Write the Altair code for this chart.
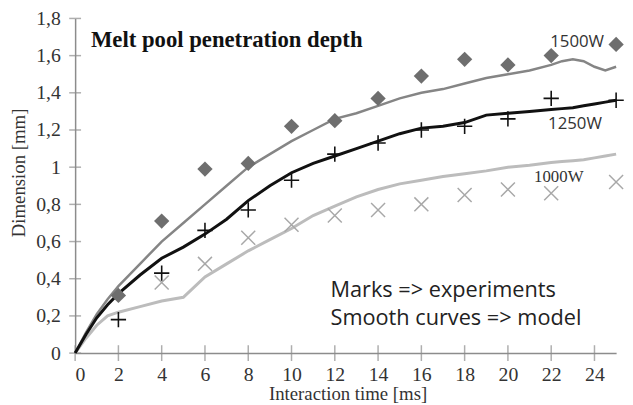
import altair as alt
import pandas as pd

# Experimental points (marks)
t_exp = [2, 4, 6, 8, 10, 12, 14, 16, 18, 20, 22, 25]
exp_1500 = [0.31, 0.71, 0.99, 1.02, 1.22, 1.25, 1.37, 1.49, 1.58, 1.55, 1.60, 1.66]
exp_1250 = [0.18, 0.43, 0.66, 0.77, 0.93, 1.07, 1.13, 1.20, 1.22, 1.26, 1.37, 1.36]
t_exp_1000 = [4, 6, 8, 10, 12, 14, 16, 18, 20, 22, 25]
exp_1000 = [0.38, 0.48, 0.62, 0.69, 0.74, 0.77, 0.80, 0.85, 0.88, 0.86, 0.92]

# Model curves
t_model = [0, 0.5, 1, 1.5, 2, 3, 4, 5, 6, 7, 8, 9, 10, 11, 12, 13, 14, 15, 16,
           17, 18, 19, 20, 21, 22, 22.5, 23, 23.5, 24, 24.5, 25]
mod_1500 = [0, 0.11, 0.21, 0.29, 0.36, 0.48, 0.60, 0.70, 0.80, 0.90, 1.00, 1.07,
            1.14, 1.20, 1.26, 1.29, 1.33, 1.37, 1.40, 1.42, 1.45, 1.48, 1.50, 1.52,
            1.55, 1.57, 1.58, 1.57, 1.54, 1.52, 1.54]
mod_1250 = [0, 0.10, 0.19, 0.26, 0.32, 0.42, 0.51, 0.57, 0.64, 0.72, 0.82, 0.90,
            0.97, 1.02, 1.06, 1.10, 1.14, 1.18, 1.21, 1.22, 1.24, 1.28, 1.29, 1.30,
            1.31, 1.315, 1.32, 1.33, 1.34, 1.35, 1.36]
mod_1000 = [0, 0.08, 0.15, 0.20, 0.22, 0.25, 0.28, 0.30, 0.41, 0.48, 0.55, 0.61,
            0.67, 0.74, 0.79, 0.84, 0.88, 0.91, 0.93, 0.95, 0.965, 0.98, 1.00, 1.01,
            1.025, 1.03, 1.035, 1.04, 1.05, 1.06, 1.07]

x_ticks = [0, 2, 4, 6, 8, 10, 12, 14, 16, 18, 20, 22, 24]
y_ticks = [0, 0.2, 0.4, 0.6, 0.8, 1.0, 1.2, 1.4, 1.6, 1.8]

title_text = ["Melt pool penetration depth"]
series_labels = ["1500W", "1250W"]
series_label_t = [23.2, 23.1]
series_label_v = [1.646, 1.205]
serif_label = ["1000W"]
serif_label_t = [22.35]
serif_label_v = [0.919]
notes = ["Marks => experiments", "Smooth curves => model"]
notes_t = [11.8, 11.8]
notes_v = [0.303, 0.149]

AX = "#8c8c8c"
SERIF = "Liberation Serif"

X = alt.X("t:Q", scale=alt.Scale(domain=[0, 25], nice=False),
          axis=alt.Axis(values=x_ticks, title="Interaction time [ms]", grid=False, ticks=False,
                        domainColor=AX, domainWidth=1.5, labelFont=SERIF, labelFontSize=20,
                        labelColor="#333", labelPadding=12, titleFont=SERIF, titleFontSize=19,
                        titleFontWeight="normal", titleColor="#333", titleX=276, titleY=47,
                        titleBaseline="alphabetic", titleAlign="center"))
Y = alt.Y("v:Q", scale=alt.Scale(domain=[0, 1.8], nice=False),
          axis=alt.Axis(values=y_ticks, title="Dimension [mm]", grid=False, ticks=False,
                        domainColor=AX, domainWidth=1.5, labelFont=SERIF, labelFontSize=20,
                        labelColor="#333", labelPadding=15,
                        labelExpr="replace(format(datum.value, '.1~f'), '.', ',')",
                        titleFont=SERIF, titleFontSize=19, titleFontWeight="normal",
                        titleColor="#333", titleX=-51, titleY=156, titleAngle=270,
                        titleBaseline="alphabetic", titleAlign="center"))

def df(ts, vs):
    return pd.DataFrame({"t": ts, "v": vs})

xt = alt.Chart(pd.DataFrame({"t": x_ticks, "v": [0] * len(x_ticks)})).mark_tick(
    orient="vertical", size=16, thickness=1.5, color=AX).encode(x=X, y=Y)
yt = alt.Chart(pd.DataFrame({"t": [0] * len(y_ticks), "v": y_ticks})).mark_tick(
    orient="horizontal", size=12, thickness=1.5, color=AX).encode(x=X, y=Y)

l1000 = alt.Chart(df(t_model, mod_1000)).mark_line(color="#bcbcbc", strokeWidth=3).encode(x=X, y=Y)
l1500 = alt.Chart(df(t_model, mod_1500)).mark_line(color="#858585", strokeWidth=2.5).encode(x=X, y=Y)
l1250 = alt.Chart(df(t_model, mod_1250)).mark_line(color="#111111", strokeWidth=3).encode(x=X, y=Y)

p1000 = alt.Chart(df(t_exp_1000, exp_1000)).mark_point(
    shape="M-1,-1L1,1M1,-1L-1,1", filled=False, size=200, strokeWidth=1.5,
    color="#a8a8a8", opacity=1).encode(x=X, y=Y)
p1500 = alt.Chart(df(t_exp, exp_1500)).mark_point(
    shape="diamond", filled=True, size=240, color="#6e6e6e", opacity=1).encode(x=X, y=Y)
p1250 = alt.Chart(df(t_exp, exp_1250)).mark_point(
    shape="M-1,0L1,0M0,-1L0,1", filled=False, size=240, strokeWidth=1.6,
    color="#111111", opacity=1).encode(x=X, y=Y)

ttl = alt.Chart(pd.DataFrame({"t": [0.73], "v": [1.646], "s": title_text})).mark_text(
    font=SERIF, fontSize=23, fontWeight="bold", align="left", baseline="alphabetic",
    color="#111").encode(x=X, y=Y, text="s:N")
sl = alt.Chart(pd.DataFrame({"t": series_label_t, "v": series_label_v, "s": series_labels})).mark_text(
    font="Open Sans", fontSize=17, align="center", baseline="alphabetic",
    color="#333").encode(x=X, y=Y, text="s:N")
sl2 = alt.Chart(pd.DataFrame({"t": serif_label_t, "v": serif_label_v, "s": serif_label})).mark_text(
    font=SERIF, fontSize=17, align="center", baseline="alphabetic",
    color="#333").encode(x=X, y=Y, text="s:N")
nt = alt.Chart(pd.DataFrame({"t": notes_t, "v": notes_v, "s": notes})).mark_text(
    font="Open Sans", fontSize=22, align="left", baseline="alphabetic",
    color="#222").encode(x=X, y=Y, text="s:N")

chart = alt.layer(xt, yt, l1000, l1500, l1250, p1000, p1500, p1250, ttl, sl, sl2, nt).properties(
    width=548, height=339,
    autosize=alt.AutoSizeParams(type="none"),
    padding={"left": 68, "top": 8, "right": 9, "bottom": 50},
    background="white",
).configure_view(stroke=None)

chart.save("out.html", embed_options={"renderer": "svg", "actions": False})
